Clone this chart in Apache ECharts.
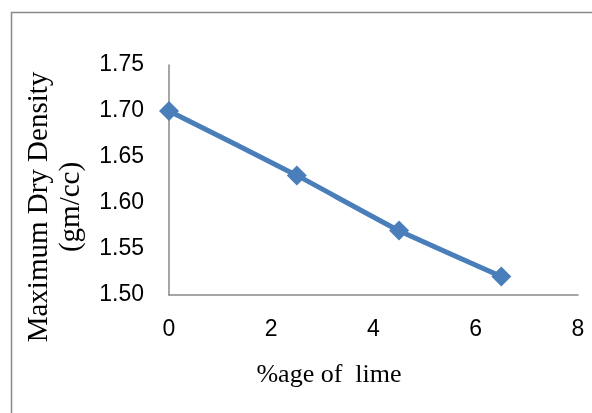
<!DOCTYPE html>
<html>
<head>
<meta charset="utf-8">
<script src="https://cdn.jsdelivr.net/npm/echarts@6/dist/echarts.min.js"></script>
<style>
html,body{margin:0;padding:0;background:#fff;}
#c{width:592px;height:413px;}
</style>
</head>
<body>
<div id="c"></div>
<script>
const limePct = [0, 2.5, 4.5, 6.5];
const dryDensity = [1.70, 1.63, 1.57, 1.52];
const xTicks = [0, 2, 4, 6, 8];
const yTicks = ['1.50', '1.55', '1.60', '1.65', '1.70', '1.75'];
const xTitle = '%age of  lime';
const yTitle = 'Maximum Dry Density\n(gm/cc)';

const chart = echarts.init(document.getElementById('c'), null, {renderer: 'canvas'});
chart.setOption({
  animation: false,
  backgroundColor: '#fff',
  graphic: [{
    type: 'rect', silent: true, z: -1,
    shape: {x: 11.5, y: 12.5, width: 620, height: 440},
    style: {fill: 'none', stroke: '#898989', lineWidth: 1.5}
  }, {
    type: 'text', silent: true,
    x: 55, y: 207, rotation: Math.PI / 2,
    style: {text: yTitle, fontFamily: 'Liberation Serif', fontSize: 29, lineHeight: 32,
      fill: '#000', align: 'center', verticalAlign: 'middle'}
  }, {
    type: 'text', silent: true,
    x: 329, y: 375,
    style: {text: xTitle, fontFamily: 'Liberation Serif', fontSize: 26,
      fill: '#000', align: 'center', verticalAlign: 'middle'}
  }],
  grid: {left: 169, right: 14, top: 65, bottom: 118, containLabel: false},
  xAxis: {
    type: 'value', min: xTicks[0], max: xTicks[xTicks.length - 1], interval: 2,
    axisLine: {lineStyle: {color: '#888', width: 1.5}},
    axisTick: {show: false},
    splitLine: {show: false},
    axisLabel: {fontFamily: 'Liberation Sans', fontSize: 23, color: '#000', margin: 23}
  },
  yAxis: {
    type: 'value', min: +yTicks[0], max: +yTicks[yTicks.length - 1], interval: 0.05,
    axisLine: {show: true, lineStyle: {color: '#888', width: 1.5}},
    axisTick: {show: false},
    splitLine: {show: false},
    axisLabel: {fontFamily: 'Liberation Sans', fontSize: 23, color: '#000', margin: 25,
      formatter: v => v.toFixed(2)}
  },
  series: [{
    type: 'line',
    data: limePct.map((x, i) => [x, dryDensity[i]]),
    smooth: 0.15,
    symbol: 'diamond', symbolSize: 20,
    lineStyle: {color: '#4a7ebb', width: 5},
    itemStyle: {color: '#4a7ebb'}
  }]
});
</script>
</body>
</html>
